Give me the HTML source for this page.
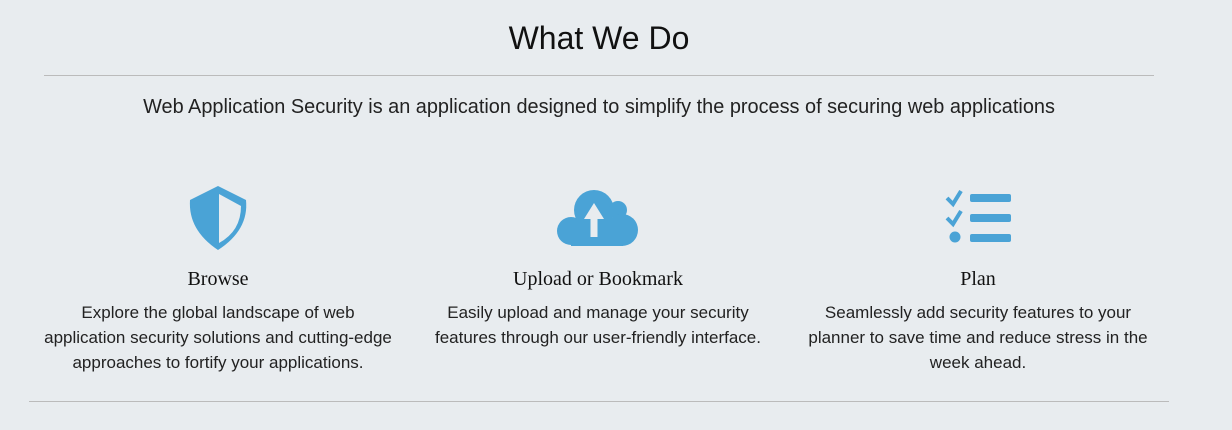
<!DOCTYPE html>
<html><head><style>
body{margin:0;width:1232px;height:430px;background:#e8ecef;font-family:"Liberation Sans",sans-serif;color:#222;position:relative;overflow:hidden}
.a{position:absolute}
h1{position:absolute;top:20px;left:0;width:1198px;text-align:center;margin:0;font-weight:normal;font-size:32px;color:#111}
.sub{top:96px;left:0;width:1198px;text-align:center;font-size:19.9px}
.t{font-family:"Liberation Serif",serif;font-size:20px;text-align:center;color:#111}
.d{font-size:17px;line-height:25px;text-align:center;color:#222}
</style></head><body>
<h1>What We Do</h1>
<div class="a" style="left:44px;top:75px;width:1110px;height:1px;background:#bbb"></div>
<div class="a sub">Web Application Security is an application designed to simplify the process of securing web applications</div>
<svg class="a" style="left:186px;top:185px" width="64" height="66" viewBox="0 0 64 66">
<path d="M32 1 L60 15 Q63 45 32 65 Q2 45 4 15 Z" fill="#4aa3d6"/>
<path d="M33 9 L55 21 Q55 46 33 58 Z" fill="#e8ecef"/>
</svg>
<svg class="a" style="left:557px;top:188px" width="83" height="60" viewBox="0 0 83 60">
<g fill="#4aa3d6">
<circle cx="37" cy="22" r="20"/>
<circle cx="61" cy="22" r="9"/>
<circle cx="65" cy="42" r="16"/>
<circle cx="14" cy="43" r="14"/>
<rect x="14" y="30" width="52" height="28"/>
</g>
<path d="M37 15 L47 31 L40.5 31 L40.5 49 L33.5 49 L33.5 31 L27 31 Z" fill="#e8ecef"/>
</svg>
<svg class="a" style="left:945px;top:188px" width="68" height="58" viewBox="0 0 68 58">
<path d="M2 10 L8 16 L16 3" stroke="#4aa3d6" stroke-width="4" fill="none"/>
<path d="M2 30 L8 36 L16 23" stroke="#4aa3d6" stroke-width="4" fill="none"/>
<circle cx="10" cy="49" r="5.5" fill="#4aa3d6"/>
<rect x="25" y="6" width="41" height="8" rx="2" fill="#4aa3d6"/>
<rect x="25" y="26" width="41" height="8" rx="2" fill="#4aa3d6"/>
<rect x="25" y="46" width="41" height="8" rx="2" fill="#4aa3d6"/>
</svg>
<div class="a t" style="left:18px;top:268px;width:400px">Browse</div>
<div class="a t" style="left:398px;top:268px;width:400px">Upload or Bookmark</div>
<div class="a t" style="left:778px;top:268px;width:400px">Plan</div>
<div class="a d" style="left:8px;top:300px;width:420px">Explore the global landscape of web<br>application security solutions and cutting-edge<br>approaches to fortify your applications.</div>
<div class="a d" style="left:388px;top:300px;width:420px">Easily upload and manage your security<br>features through our user-friendly interface.</div>
<div class="a d" style="left:768px;top:300px;width:420px">Seamlessly add security features to your<br>planner to save time and reduce stress in the<br>week ahead.</div>
<div class="a" style="left:29px;top:401px;width:1140px;height:1px;background:#bbb"></div>
</body></html>
